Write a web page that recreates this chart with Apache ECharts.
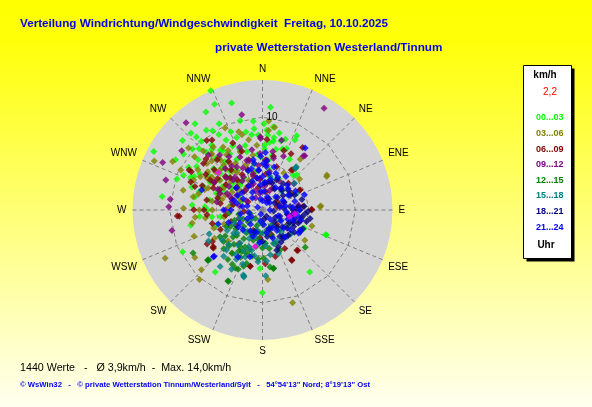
<!DOCTYPE html>
<html><head><meta charset="utf-8">
<script src="https://cdn.jsdelivr.net/npm/echarts@6/dist/echarts.min.js"></script>
<style>html,body{margin:0;padding:0;background:#fff;}#c{width:592px;height:407px;}</style>
</head><body><div id="c"></div>
<script>
// ---- texts ----
const titleMain = 'Verteilung Windrichtung/Windgeschwindigkeit  Freitag, 10.10.2025';
const titleSub = 'private Wetterstation Westerland/Tinnum';
const footerStats = '1440 Werte   -   \u00D8 3,9km/h  -  Max. 14,0km/h';
const footerCopy = '\u00A9 WsWin32   -   \u00A9 private Wetterstation Tinnum/Westerland/Sylt   -   54\u00B054\'13" Nord; 8\u00B019\'13" Ost';
const unitLabel = 'km/h';
const currentSpeed = '2,2';
const hourLabel = 'Uhr';

// ---- axes ----
const directions = ['N','NNE','NE','ENE','E','ESE','SE','SSE','S','SSW','SW','WSW','W','WNW','NW','NNW'];
const ringValues = [5, 10];
const ringLabels = [10];
const speedMax = 14;

// ---- series (each point: [speed km/h, direction degrees]) ----
const seriesNames = ['00...03','03...06','06...09','09...12','12...15','15...18','18...21','21...24'];
const seriesColors = ['#00ff00','#808000','#800000','#800080','#008000','#008080','#000080','#0000ff'];

const s0003 = [[14.0,336.5],[12.5,335.6],[12.0,343.9],[11.1,4.5],[9.6,354.1],[8.8,354.1],[10.5,324.8],[10.1,327.8],[10.4,333.3],[11.3,317],[10.6,317.8],[9.9,318.3],[11.4,311],[13.3,298.3],[10.4,305.3],[10.0,311],[8.7,315.9],[8.5,320],[7.9,324.7],[8.5,332.5],[7.6,335],[8.3,340.4],[9.0,7.4],[8.6,3],[8.5,12.3],[7.9,9],[7.5,9],[8.3,24.9],[8.8,24.8],[7.1,21.4],[5.4,6.7],[6.7,12.5],[9.3,293.8],[8.5,303.4],[8.5,294.5],[10.9,277.6],[7.6,274],[6.2,273.3],[9.7,242.4],[8.4,217.3],[8.9,180],[8.4,142.7],[7.3,111.5],[4.9,113.7],[5.2,251.9],[6.9,310.3],[6.9,302.9],[6.0,310.8],[6.8,291.5],[5.8,280.8],[5.3,290],[5.3,44.3],[4.8,114.2],[6.3,182.5],[7.4,111.3],[4.3,312.4],[4.0,330],[5.0,350],[3.0,300],[6.0,10],[4.5,340],[5.5,320],[3.5,15],[6.0,355],[2.5,290],[5.0,300],[7.0,330],[6.5,345],[3.8,322],[7.5,318],[9.2,300],[8.0,288],[6.9,339.4],[8.2,351.8],[8.1,356.8],[7.3,319.9],[4.4,9.5],[3.8,27.5],[5.0,41.4],[4.6,261],
  [7.8,300],[8.8,308],[9.5,314],[6.4,298],[7.1,286],[5.6,305],[6.3,316],[7.7,326],[8.9,322],[9.4,330],[6.1,333],[5.2,327],[4.7,296],[8.2,296],[9.8,290],[7.4,281],[5.9,270],[4.9,284],[6.6,322],[7.2,345],[8.6,348],[9.9,346],[5.7,358],[7.0,2],[8.0,18],[6.2,28],[4.2,350],[3.6,318],[3.2,340],[10.8,300],[11.8,322],[12.2,330],[9.1,338],[6.8,264],[5.5,262],[7.9,258],[3.4,280],[4.1,305],[2.8,320],[5.0,315],
  [8.1,4],[7.3,6],[6.6,2],[9.3,1],[7.7,15],[6.9,18]];
const s0306 = [[12.8,294.4],[11.0,298.3],[8.8,343.1],[9.7,335.5],[9.0,314.9],[8.2,317.9],[7.0,319.8],[6.4,319.2],[7.6,280.8],[8.5,271.2],[7.7,348.8],[8.4,344.7],[7.6,298.2],[8.1,293.6],[6.5,309.1],[9.6,4],[8.6,4.4],[9.0,8.4],[6.8,36.7],[5.2,50.2],[7.8,62.4],[6.3,86.1],[4.6,30],[5.6,108],[5.6,125.5],[7.5,175.5],[10.5,162],[4.3,101.5],[7.3,263.8],[7.7,259.6],[7.9,249.1],[11.7,243.7],[8.9,234.9],[9.2,225.7],[10.1,222.2],[6.0,239.6],[5.6,249.8],[5.7,215.3],[8.1,317.3],[7.1,326.9],[6.3,313.3],[6.0,298.5],[5.2,311.5],[6.1,325.1],[6.7,338.9],[6.6,289.2],[4.1,346],[7.9,61.4],[6.2,86.7],[5.5,280],[4.8,300],[4.0,320],[3.5,335],[5.0,290],[6.8,270],[4.5,285],[7.2,305],[3.2,310],[5.8,330],
  [6.9,300],[7.8,310],[8.6,322],[7.4,330],[5.9,318],[4.9,326],[6.3,292],[7.1,284],[8.2,302],[9.3,308],[5.4,270],[6.2,262],[4.4,250],[3.8,300],[4.6,312],[5.2,340],[6.0,350],[7.0,355],[3.0,325],[2.6,295],[8.8,284],[9.8,296],[10.4,310],[6.7,232],[5.0,228],[4.2,260],[3.6,275],[7.4,320],[5.6,305],[8.0,328],
  [5.3,322],[6.5,303],[4.3,292],[7.6,314]];
const s0609 = [[7.9,336.1],[9.6,321.3],[9.3,324.2],[9.0,298.5],[8.7,298.3],[8.3,291.4],[6.5,299.9],[5.8,294],[7.7,289.1],[6.7,340.6],[5.6,344.6],[7.6,3.6],[6.8,19.8],[6.8,26.9],[8.0,32.7],[5.3,35.8],[4.5,61.7],[5.3,90],[5.4,3.4],[9.0,265.7],[7.4,270.2],[6.0,265],[7.0,238.5],[6.7,232.5],[6.2,192.2],[5.3,89.2],[5.8,138.9],[6.3,149.8],[5.2,164.5],[5.8,177],[9.2,266],[6.4,237.6],[5.4,37],[8.1,308.3],[6.1,280.2],[5.1,295.2],[4.6,278.9],[5.9,11.5],[4.9,18.1],[3.7,312],[4.0,44.1],[4.6,61.9],[4.2,107.3],[3.9,130.3],[5.7,139.5],[6.2,149.7],[6.2,192.4],[6.6,233.3],[2.4,204.6],[1.6,77],[3.0,330],[2.5,350],[3.5,290],[2.0,10],[4.2,320],[3.3,240],[2.8,160],[1.8,300],[4.8,305],[3.9,5],
  [6.8,310],[7.3,318],[5.5,322],[4.4,330],[5.0,285],[6.3,270],[4.0,262],[3.6,250],[5.6,255],[7.2,302],[8.2,312],[3.2,280],[2.8,315],[4.6,340],[3.4,355],[2.6,25],[3.6,60],[4.4,85],[3.1,120],[4.8,150],[2.2,135],[3.0,185],[4.4,215],[5.0,245],[2.0,265],[6.0,300],[7.0,292],[5.4,312],[3.8,345],[1.8,60],
  [5.9,305],[4.9,315],[6.4,325]];
const s0912 = [[12.8,31.2],[10.5,347.7],[12.5,318.8],[10.8,306.3],[11.9,295.4],[10.9,287.2],[10.0,276.6],[10.1,272],[10.0,257.2],[7.7,358.5],[7.8,15.3],[7.9,358.3],[7.4,38],[3.9,82],[5.4,329.2],[4.1,330.1],[5.6,342.4],[6.2,337.1],[6.1,357.5],[5.4,4.8],[3.0,341],[4.5,315.8],[3.8,292.3],[6.2,21.3],[7.3,37.1],[4.9,291.4],[8.3,315.4],[3.5,350],[4.8,355],[2.8,320],[4.2,10],[5.0,335],[3.2,300],[2.2,20],[6.6,350],[4.0,345],[2.5,280],[3.6,30],[5.8,325],[1.5,330],[4.4,305],
  [4.6,320],[5.2,312],[6.0,318],[3.7,310],[2.9,335],[3.3,355],[4.9,5],[5.7,12],[2.6,5],[3.1,15],[5.5,345],[6.8,328],[7.2,340],[4.2,295],[3.4,285],[2.0,300],[1.8,350],[3.0,40],[4.4,50],[2.4,70],[6.0,300],[5.0,280],[4.0,270],[2.7,250],[7.5,322],[6.4,10],[3.8,325],[2.2,340],[1.2,20],[5.3,295]];
const s1215 = [[8.8,238.3],[8.0,227.1],[8.5,206],[6.9,202.3],[6.7,209.1],[6.4,198.5],[5.4,231.1],[5.3,223],[5.0,206.4],[5.1,192.8],[6.4,169.1],[6.1,131],[5.2,178.6],[8.5,205.5],[8.0,227.6],[6.9,205.2],[6.0,196.5],[6.4,169.5],[3.9,242.9],[4.3,227.6],[4.6,211.5],[5.0,200],[3.4,197],[2.5,186],[2.2,168],[2.7,229],[5.4,237.9],[7.9,227.3],[6.2,172.5],[4.7,156.4],[1.4,255],[3.0,215],[4.0,190],[2.0,230],[3.6,175],[4.4,205],[1.8,200],[3.2,250],[5.7,215],[2.8,140],[3.8,160],
  [4.8,220],[3.5,235],[2.6,210],[1.5,180],[2.3,245],[3.9,225],[5.1,210],[4.1,180],[3.2,188],[2.4,195],[4.5,198],[5.6,205],[3.7,213],[2.9,203],[1.2,220],[5.9,225],[6.5,215],[4.9,235],[3.0,160],[4.2,170],[1.9,150],[2.6,260],[3.6,265],[4.3,245],[5.3,185]];
const s1518 = [[7.5,195.5],[5.8,38.4],[7.4,195.8],[7.6,216.9],[7.2,207.6],[6.3,245.7],[5.4,233.7],[5.6,211.3],[5.7,38.2],[4.9,170],[3.7,155.1],[7.1,177.2],[6.7,240.2],[5.5,175.3],[3.7,12.7],[4.1,64],[5.9,38],[3.9,137.8],[4.3,214],[4.0,231],[7.3,196.4],[5.8,221.9],[3.8,162],[2.2,196],[3.0,220],[2.5,180],[4.5,195],[3.4,245],[2.0,150],[4.8,205],[3.2,120],[5.2,225],[1.6,230],[2.8,100],
  [3.6,185],[4.2,200],[5.0,190],[3.4,205],[2.8,215],[4.6,215],[5.4,200],[3.9,175],[2.4,165],[3.1,140],[4.0,130],[2.6,250],[3.7,228],[5.6,185],[6.2,200],[4.4,240],[1.4,190],[2.2,120],[5.0,160],[3.3,60],[2.9,45],[4.5,50],[6.0,208],[6.5,220],[3.0,195]];
const s1821 = [[4.9,104.8],[3.9,84.7],[3.5,52.3],[3.0,103.6],[3.8,143.7],[3.6,112.6],[3.3,126.3],[2.9,4],[3.0,44.3],[3.4,61.6],[3.7,87],[3.2,99.7],[4.6,160.5],[3.6,142],[4.3,156.7],[3.6,38],[3.0,83],[4.0,90],[3.8,118],[3.4,146.7],[0.8,148],[2.5,70],[2.0,110],[4.4,75],[1.5,60],[2.8,130],[4.2,125],[1.2,95],[3.1,20],[2.2,160],[4.6,95],[2.6,30],[1.8,135],
  [3.3,90],[2.7,100],[3.6,105],[4.1,110],[2.3,85],[1.6,120],[3.9,135],[4.8,115],[2.1,50],[3.8,65],[4.5,85],[3.2,115],[2.4,140],[4.0,150],[1.0,170],[2.9,170],[3.5,95],[4.3,100],[1.9,75],[2.7,55],[3.0,10],[3.6,25],[1.4,30],[2.5,200],[3.4,180],[4.9,92],[5.2,100]];
const s2124 = [[8.1,34.6],[4.7,120],[3.5,108],[7.3,226.5],[6.9,288.2],[5.0,252.5],[7.2,226.2],[5.7,207.4],[4.6,122.4],[5.5,349.6],[5.0,1],[4.3,354],[4.6,118],[3.3,289],[5.2,195],[1.0,0],[1.5,20],[2.0,45],[2.5,80],[1.8,110],[2.2,150],[1.2,190],[2.0,220],[1.5,260],[2.4,300],[3.0,330],[3.5,350],[4.0,10],[2.8,30],[3.2,60],[2.6,95],[3.0,130],[2.5,170],[3.0,200],[2.8,240],[3.4,270],[1.7,320],[0.5,200],[0.8,90],[4.5,340],[4.2,20],[3.8,45],[3.6,75],[2.0,355],[3.0,5],[5.8,358],[6.2,3],[4.8,15],[3.9,100],[3.2,160],[2.4,260],[3.7,310],[2.9,285],[1.3,140],[4.1,60],
  [1.1,45],[1.9,80],[2.3,120],[2.7,145],[1.6,175],[2.6,210],[1.9,240],[2.2,280],[2.9,310],[3.3,340],[4.3,355],[5.1,350],[4.7,5],[3.9,25],[3.1,40],[2.4,65],[3.3,85],[2.9,110],[3.7,125],[2.1,160],[3.5,185],[3.0,225],[3.9,250],[3.1,300],[0.6,300],[1.4,240],[0.9,30],[2.0,5],[3.4,15],[4.4,35],[4.0,90],[4.3,105],[2.2,330],[1.2,350],[2.7,355],[3.6,0],[4.6,345],[5.3,5],[3.8,140],[4.2,270],[2.5,195],[1.7,285],[3.6,50],[4.8,70],[3.2,235]];
const latest = [[6.2,310.2],[3.0,103.6],[4.0,191.6],[3.5,96.5]];
const latestColor = '#ff00ff';

const seriesData = [s0003, s0306, s0609, s0912, s1215, s1518, s1821, s2124];

// ---- layout ----
const CX = 262.5, CY = 210, R = 130;
const FONT = '"Liberation Sans", Arial, sans-serif';
const gridLine = {color: '#808080', width: 1, type: [4, 3]};

const chart = echarts.init(document.getElementById('c'));
const series = seriesData.map((d, i) => ({
  name: seriesNames[i], type: 'scatter', coordinateSystem: 'polar', polarIndex: 1,
  symbol: 'diamond', symbolSize: 7, z: 5,
  itemStyle: {color: seriesColors[i]}, data: d, animation: false
}));
series.push({name: 'aktuell', type: 'scatter', coordinateSystem: 'polar', polarIndex: 1, symbol: 'diamond', symbolSize: 7, z: 5,
  itemStyle: {color: latestColor}, data: latest, animation: false});

chart.setOption({
  animation: false,
  backgroundColor: {type: 'linear', x: 0, y: 0, x2: 0, y2: 1,
    colorStops: [{offset: 0, color: '#ffff00'}, {offset: 0.1, color: '#ffff0a'}, {offset: 1, color: '#fffff0'}]},
  title: [
    {text: titleMain, left: 20, top: 18, padding: 0,
      textStyle: {color: '#0000ee', fontSize: 11.7, fontWeight: 'bold', fontFamily: FONT}},
    {text: titleSub, left: 215, top: 42, padding: 0,
      textStyle: {color: '#0000ee', fontSize: 11.7, fontWeight: 'bold', fontFamily: FONT}},
    {text: footerStats, left: 20, top: 363, padding: 0,
      textStyle: {color: '#000', fontSize: 10.7, fontWeight: 'normal', fontFamily: FONT}},
    {text: footerCopy, left: 20, top: 381, padding: 0,
      textStyle: {color: '#0000ee', fontSize: 7.7, fontWeight: 'bold', fontFamily: FONT}}
  ],
  polar: [{center: [CX, CY], radius: R}, {center: [CX, CY], radius: R}],
  angleAxis: [{
    polarIndex: 0, type: 'value', min: 0, max: 360, interval: 22.5, startAngle: 90, clockwise: true, z: 0,
    axisLine: {show: false}, axisTick: {show: false}, axisLabel: {show: false}, splitLine: {show: false},
    splitArea: {show: true, areaStyle: {color: ['#d4d4d4']}}
  }, {
    polarIndex: 1, type: 'value', min: 0, max: 360, interval: 22.5, startAngle: 90, clockwise: true, z: 1,
    axisLine: {show: false}, axisTick: {show: false},
    axisLabel: {margin: 6, color: '#000', fontSize: 10, fontFamily: FONT,
      formatter: v => directions[Math.round(v / 22.5)] || ''},
    splitLine: {show: true, lineStyle: gridLine},
    splitArea: {show: false}
  }],
  radiusAxis: [{
    polarIndex: 0, type: 'value', min: 0, max: speedMax, show: false
  }, {
    polarIndex: 1, type: 'value', min: 0, max: speedMax, interval: 5, z: 6,
    axisLine: {show: false}, axisTick: {show: false}, splitLine: {show: false},
    axisLabel: {color: '#000', fontSize: 10, fontFamily: FONT, margin: -4, align: 'left', verticalAlign: 'middle',
      formatter: v => ringLabels.includes(v) ? String(v) : ''}
  }],
  radar: {
    center: [CX, CY], radius: R * ringValues[ringValues.length - 1] / speedMax,
    splitNumber: ringValues.length, shape: 'polygon', startAngle: 90, z: 1,
    indicator: directions.map(d => ({name: d, max: ringValues[ringValues.length - 1]})),
    axisName: {show: false}, axisLine: {show: false}, splitArea: {show: false},
    splitLine: {lineStyle: gridLine}
  },
  legend: {
    orient: 'vertical', left: 531, top: 112, padding: 0, itemGap: 3.6,
    itemWidth: 0, itemHeight: 12, icon: 'none', selectedMode: false, z: 10,
    data: seriesNames.map((n, i) => ({name: n, textStyle: {color: seriesColors[i]}})),
    textStyle: {fontSize: 9, fontWeight: 'bold', fontFamily: FONT, lineHeight: 12}
  },
  graphic: [
    {type: 'rect', shape: {x: 526.5, y: 68.5, width: 48, height: 193}, style: {fill: '#000'}, z: 8},
    {type: 'rect', shape: {x: 523.5, y: 65.5, width: 48, height: 193}, style: {fill: '#fff', stroke: '#000', lineWidth: 1}, z: 9},
    {type: 'text', x: 545, y: 75, z: 10, style: {text: unitLabel, align: 'center', verticalAlign: 'middle', font: 'bold 10px ' + FONT, fill: '#000'}},
    {type: 'text', x: 550, y: 92, z: 10, style: {text: currentSpeed, align: 'center', verticalAlign: 'middle', font: '10px ' + FONT, fill: '#ff0000'}},
    {type: 'text', x: 546, y: 245, z: 10, style: {text: hourLabel, align: 'center', verticalAlign: 'middle', font: 'bold 10px ' + FONT, fill: '#000'}}
  ],
  series: series
});
</script></body></html>
